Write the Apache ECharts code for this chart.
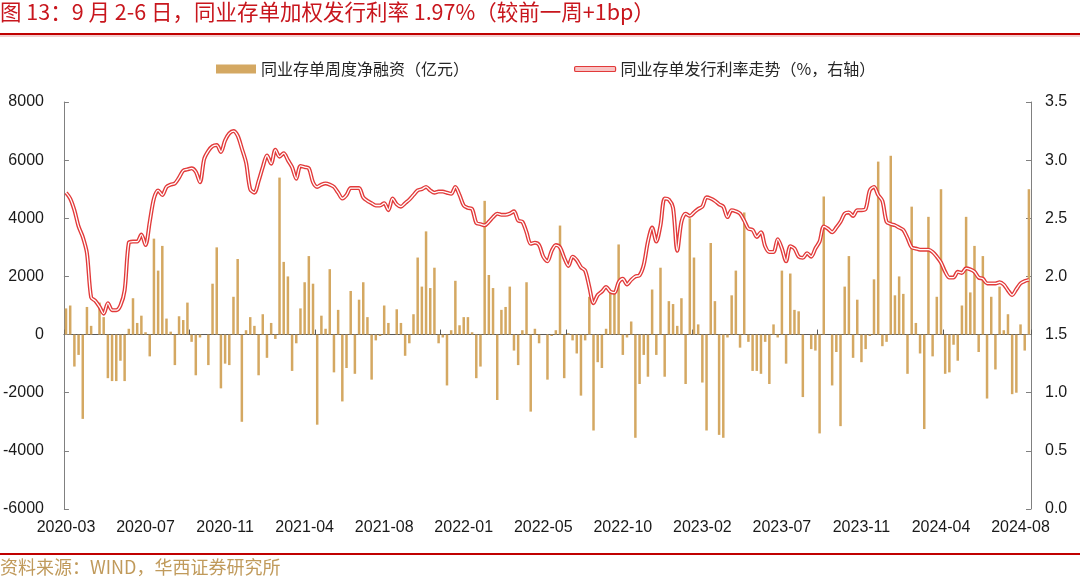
<!DOCTYPE html>
<html>
<head>
<meta charset="utf-8">
<script src="https://cdn.jsdelivr.net/npm/echarts@6/dist/echarts.min.js"></script>
<style>
html,body{margin:0;padding:0;background:#fff;}
#chart{width:1080px;height:579px;}
</style>
</head>
<body>
<div id="chart"></div>
<script>
// Tick labels shown on the x axis (every 19th week)
var tickLabels = ['2020-03','2020-07','2020-11','2021-04','2021-08','2022-01','2022-05','2022-10','2023-02','2023-07','2023-11','2024-04','2024-08'];

// Weekly net financing of NCDs (100 million yuan)
var netFinancing = [
  900, 1000, -1100, -700, -2900, 950, 300, 0, 1100, 600,
  -1500, -1600, -1600, -900, -1600, 200, 1250, 400, 650, 80,
  -750, 3300, 2200, 3050, 550, 100, -1050, 630, 500, 1100,
  -250, -1400, -100, 0, -1050, 1750, 3000, -1850, -1000, -1050,
  1300, 2600, -3000, 150, 600, 300, -1400, 700, -800, 400,
  -150, 5400, 2500, 2000, -1250, -300, 900, 1800, 2700, 1750,
  -3100, 650, 200, 2250, -1300, 850, -2300, -1150, 1500, -1350,
  1200, 1800, 600, -1550, -200, -50, 1000, 400, 0, 870,
  400, -730, -300, 700, 2650, 1650, 3550, 1600, 2300, -300,
  -100, -1750, 150, 1850, 320, 600, 600, 80, -1500, -1100,
  4600, 2050, 1600, -2250, 850, 950, 1650, -550, -1050, 150,
  1800, -2650, 200, -300, 0, -1550, -50, 150, 3750, -1500,
  50, -200, -650, -2100, -200, 1300, -3300, -950, -1150, 200,
  1450, 1450, 3100, -700, -100, 450, -3550, -1700, -700, -1450,
  1550, -700, 2300, -1450, 1150, 1050, 300, 1250, -1700, 4000,
  2650, 350, -1650, -3300, 3150, 1150, -3450, -3550, -100, 1350,
  2200, -450, 4200, -250, -1250, -1250, -1350, -250, -1700, 350,
  -100, 2200, -1000, 2100, 850, 800, -2150, 0, -500, -550,
  -3400, 4750, 0, -1750, -600, -3150, 1650, 2700, -800, 1200,
  -950, -500, -50, 1900, 5950, -400, -250, 6150, 1350, 2000,
  1400, -1350, 4400, 400, -650, -3250, 4050, -750, 1300, 5000,
  -1350, -1300, -350, -900, 1000, 4050, 1450, 3050, -600, 2700,
  -2200, 1300, -1200, 1650, 150, 700, -2050, -2000, 350, -550, 5000
];

// Weighted NCD issuance rate (%)
var issueRate = [
  2.72, 2.67, 2.57, 2.43, 2.34, 2.20, 1.82, 1.79, 1.74, 1.68,
  1.77, 1.71, 1.71, 1.75, 1.88, 2.29, 2.30, 2.30, 2.36, 2.27,
  2.47, 2.67, 2.74, 2.70, 2.77, 2.79, 2.80, 2.85, 2.91, 2.92,
  2.93, 2.90, 2.81, 3.01, 3.08, 3.12, 3.13, 3.07, 3.17, 3.23,
  3.25, 3.21, 3.10, 2.98, 2.75, 2.72, 2.82, 2.94, 3.04, 2.97,
  3.09, 3.03, 3.06, 3.00, 2.94, 2.84, 2.95, 2.94, 2.93, 2.81,
  2.77, 2.79, 2.80, 2.79, 2.77, 2.72, 2.67, 2.70, 2.76, 2.76,
  2.76, 2.68, 2.65, 2.63, 2.61, 2.61, 2.63, 2.57, 2.67, 2.62,
  2.60, 2.63, 2.66, 2.70, 2.74, 2.75, 2.77, 2.74, 2.72, 2.73,
  2.73, 2.72, 2.71, 2.77, 2.70, 2.61, 2.59, 2.58, 2.46, 2.45,
  2.44, 2.47, 2.51, 2.54, 2.53, 2.53, 2.54, 2.56, 2.48, 2.47,
  2.38, 2.28, 2.29, 2.27, 2.17, 2.13, 2.22, 2.27, 2.25, 2.16,
  2.09, 2.17, 2.14, 2.08, 2.05, 1.91, 1.77, 1.84, 1.87, 1.91,
  1.87, 1.86, 1.95, 1.98, 1.93, 1.97, 2.00, 2.01, 2.10, 2.30,
  2.42, 2.30, 2.44, 2.67, 2.66, 2.59, 2.22, 2.47, 2.54, 2.52,
  2.55, 2.58, 2.60, 2.68, 2.67, 2.65, 2.62, 2.60, 2.51, 2.57,
  2.56, 2.54, 2.48, 2.41, 2.40, 2.34, 2.38, 2.26, 2.21, 2.21,
  2.32, 2.24, 2.13, 2.26, 2.24, 2.17, 2.16, 2.20, 2.17, 2.24,
  2.30, 2.43, 2.41, 2.38, 2.42, 2.47, 2.54, 2.55, 2.52, 2.57,
  2.57, 2.58, 2.74, 2.77, 2.70, 2.65, 2.47, 2.45, 2.44, 2.42,
  2.40, 2.33, 2.25, 2.24, 2.23, 2.23, 2.23, 2.21, 2.17, 2.12,
  2.04, 1.99, 1.99, 2.04, 2.03, 2.07, 2.06, 2.04, 1.99, 1.98,
  1.94, 1.94, 1.94, 1.95, 1.93, 1.88, 1.84, 1.89, 1.94, 1.96, 1.97
];

// Week categories (one per data point)
var categories = [];
(function(){
  var d = new Date(Date.UTC(2020, 2, 6));
  for (var i = 0; i < netFinancing.length; i++) {
    var t = new Date(d.getTime() + i * 7 * 86400000);
    categories.push(t.toISOString().slice(0, 10));
  }
})();

var LABEL_STEP = 19;
var FONT = "'Liberation Sans', Arial, 'Noto Sans CJK SC', sans-serif";
var CJK = "'Noto Sans CJK SC', 'Liberation Sans', sans-serif";

var chart = echarts.init(document.getElementById('chart'), null, {renderer: 'canvas'});
chart.setOption({
  animation: false,
  backgroundColor: '#ffffff',
  textStyle: {fontFamily: FONT},
  grid: {left: 63, right: 49, top: 102, bottom: 70, containLabel: false},
  legend: [
    {
      left: 211, top: 56,
      itemWidth: 40, itemHeight: 9, itemGap: 10,
      textStyle: {fontFamily: CJK, fontSize: 16, color: '#262626'},
      data: [{name: '同业存单周度净融资（亿元）', icon: 'rect'}]
    },
    {
      left: 569, top: 56,
      itemWidth: 41, itemHeight: 5,
      textStyle: {fontFamily: CJK, fontSize: 16, color: '#262626'},
      data: [{name: '同业存单发行利率走势（%，右轴）', icon: 'roundRect',
              itemStyle: {color: '#f7c4c4', borderColor: '#e23a3a', borderWidth: 1.2}}]
    }
  ],
  xAxis: [
    {
      type: 'category', data: categories, boundaryGap: true,
      axisLine: {show: true, onZero: true, onZeroAxisIndex: 0, lineStyle: {color: '#595959', width: 1}},
      axisTick: {show: true, inside: true, interval: 29, length: 5, lineStyle: {color: '#595959'}},
      axisLabel: {show: false},
      splitLine: {show: false}
    },
    {
      type: 'category', data: categories, boundaryGap: true, position: 'bottom',
      axisLine: {show: false, onZero: false},
      axisTick: {show: false},
      axisLabel: {
        show: true, margin: 11, fontSize: 16, color: '#1a1a1a', fontFamily: FONT,
        interval: function (idx) { return idx % LABEL_STEP === 0; },
        formatter: function (v, idx) { return tickLabels[Math.round(idx / LABEL_STEP)] || ''; }
      },
      splitLine: {show: false}
    }
  ],
  yAxis: [
    {
      type: 'value', min: -6000, max: 8000, interval: 2000, position: 'left',
      axisLine: {show: true, lineStyle: {color: '#808080'}},
      axisTick: {show: true, inside: true, length: 5, lineStyle: {color: '#808080'}},
      axisLabel: {fontSize: 16, color: '#1a1a1a', margin: 20,
                  formatter: function (v) { return String(v); }},
      splitLine: {show: false}
    },
    {
      type: 'value', min: 0, max: 3.5, interval: 0.5, position: 'right',
      axisLine: {show: true, lineStyle: {color: '#808080'}},
      axisTick: {show: true, inside: true, length: 5, lineStyle: {color: '#808080'}},
      axisLabel: {fontSize: 16, color: '#1a1a1a', margin: 14,
                  formatter: function (v) { return v.toFixed(1); }},
      splitLine: {show: false}
    }
  ],
  series: [
    {
      name: '同业存单周度净融资（亿元）', type: 'bar', xAxisIndex: 0, yAxisIndex: 0,
      data: netFinancing, barWidth: 2.5,
      itemStyle: {color: '#d4a862'}, z: 2
    },
    {
      name: '同业存单发行利率走势（%，右轴）', type: 'line', xAxisIndex: 0, yAxisIndex: 1,
      data: issueRate, smooth: 0.3, symbol: 'none',
      lineStyle: {color: '#e23a3a', width: 4}, itemStyle: {color: '#e23a3a'}, z: 3
    },
    {
      name: 'rateInner', type: 'line', xAxisIndex: 0, yAxisIndex: 1,
      data: issueRate, smooth: 0.3, symbol: 'none', silent: true,
      lineStyle: {color: '#ffffff', width: 1.3}, z: 4
    }
  ],
  graphic: [
    {type: 'text', left: 0, top: 1, style: {text: '图 13：9 月 2-6 日，同业存单加权发行利率 1.97%（较前一周+1bp）',
      font: "21.5px 'Noto Sans CJK SC', 'Liberation Sans', sans-serif", fill: '#c8161d'}},
    {type: 'rect', shape: {x: 0, y: 33, width: 1080, height: 2}, style: {fill: '#c00000'}},
    {type: 'rect', shape: {x: 0, y: 35.5, width: 1080, height: 1}, style: {fill: '#e8a0a0'}},
    {type: 'rect', shape: {x: 0, y: 553, width: 1080, height: 2}, style: {fill: '#c00000'}},
    {type: 'text', left: 0, top: 558, style: {text: '资料来源：WIND，华西证券研究所',
      font: "18px 'Noto Sans CJK SC', 'Liberation Sans', sans-serif", fill: '#c09a5b'}}
  ]
});
</script>
</body>
</html>
